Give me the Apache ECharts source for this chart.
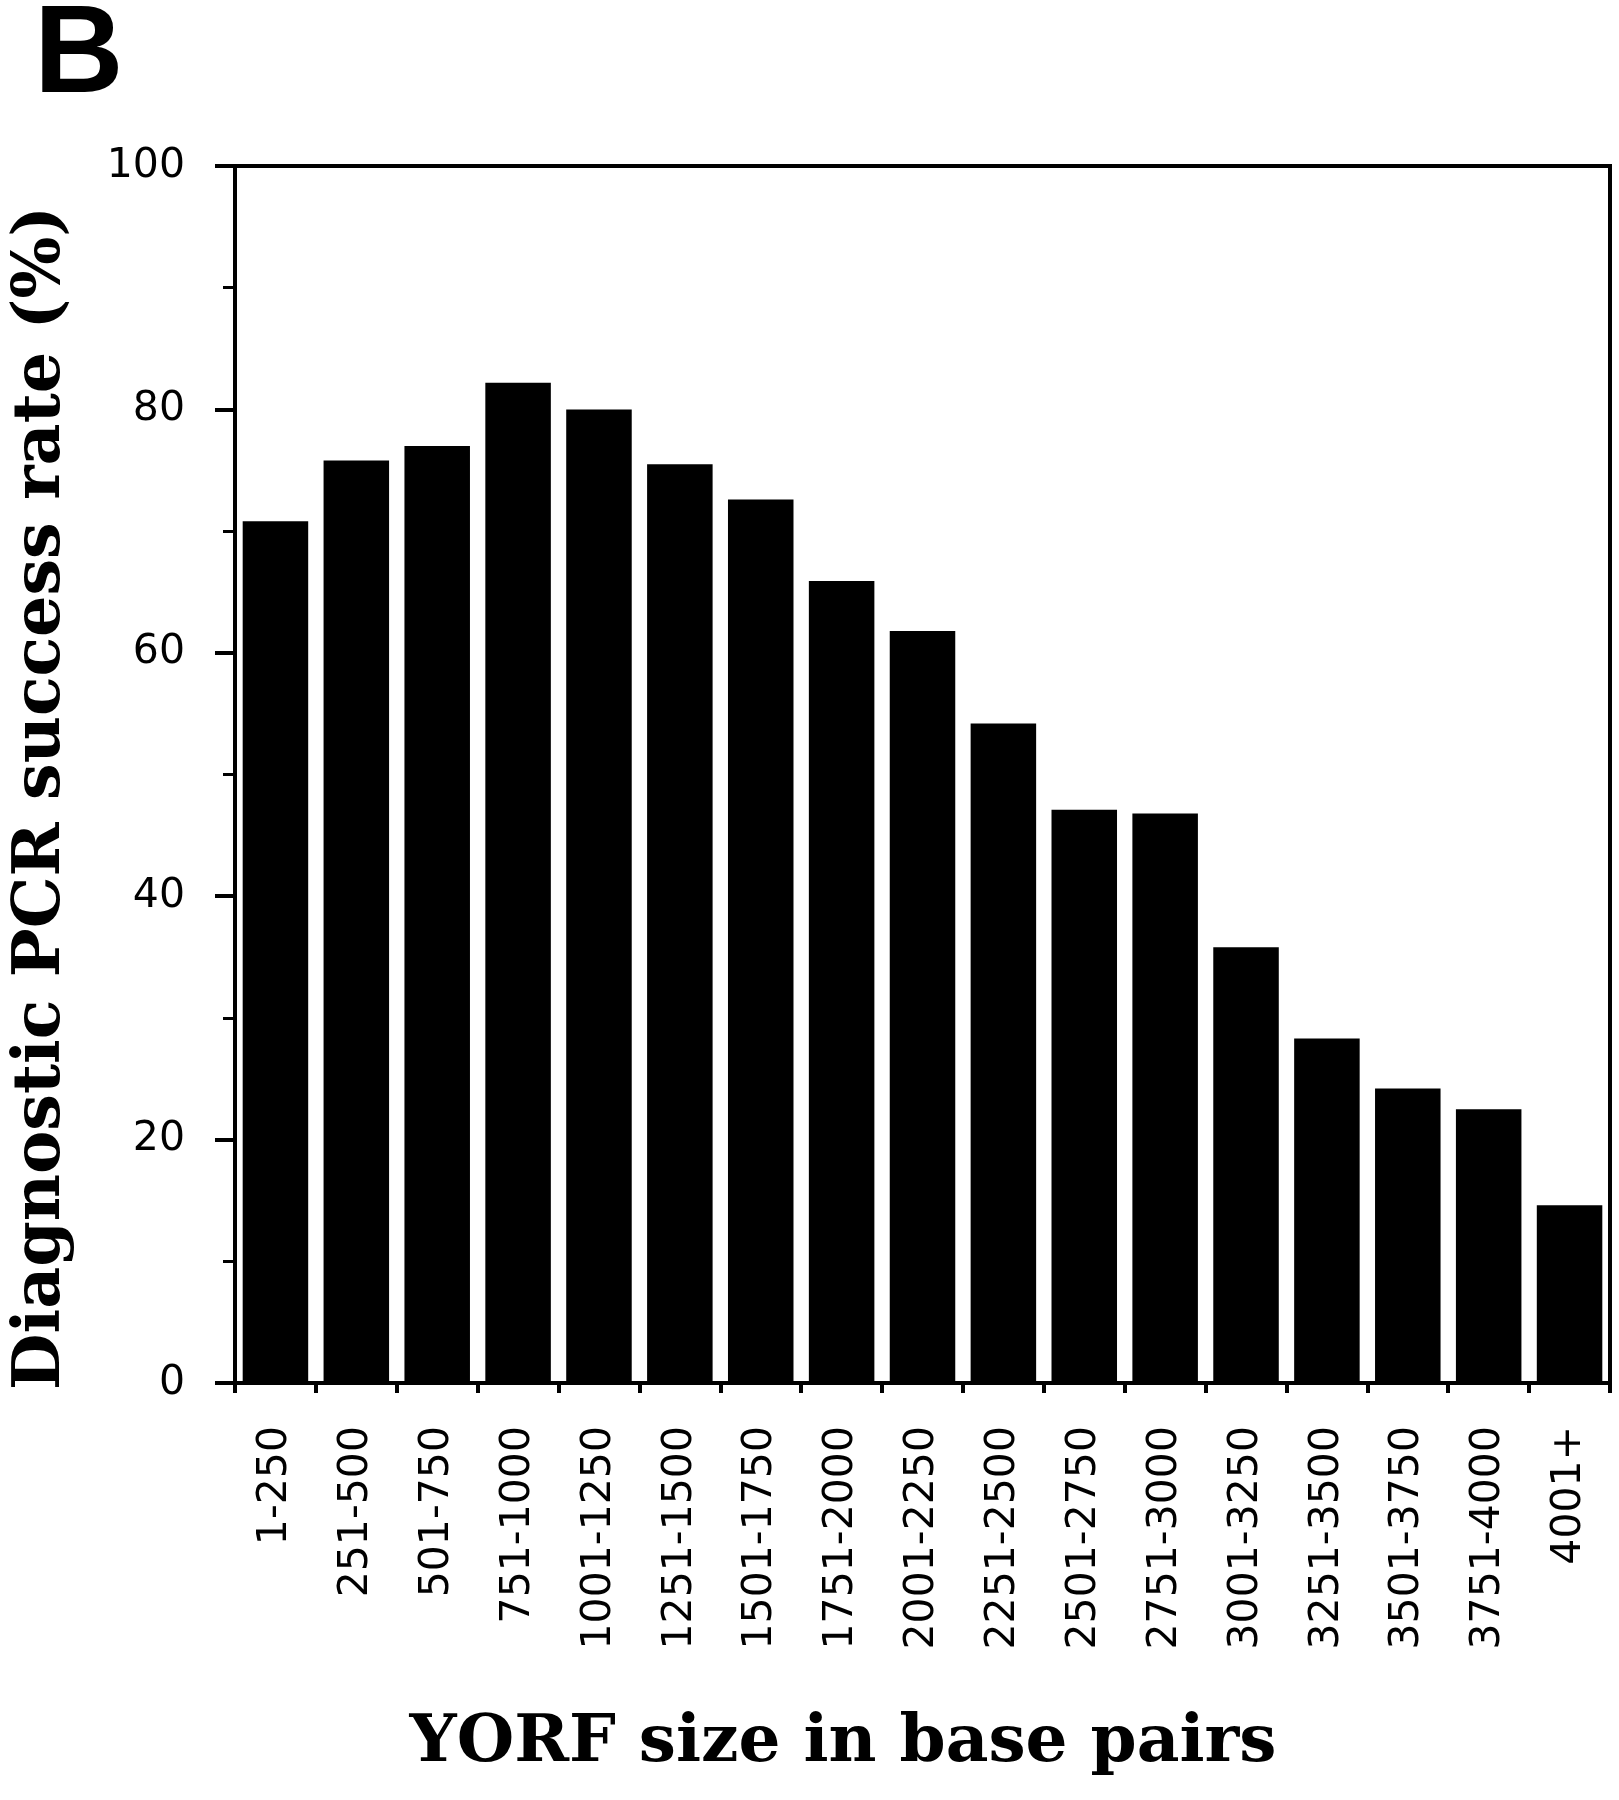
<!DOCTYPE html>
<html>
<head>
<meta charset="utf-8">
<script src="https://cdn.jsdelivr.net/npm/echarts@6/dist/echarts.min.js"></script>
<style>
  html, body { margin: 0; padding: 0; background: #fff; }
  #chart { width: 1619px; height: 1800px; }
</style>
</head>
<body>
<div id="chart"></div>
<script>
// YORF size bins (base pairs)
const sizeBins = [
  '1-250', '251-500', '501-750', '751-1000', '1001-1250', '1251-1500',
  '1501-1750', '1751-2000', '2001-2250', '2251-2500', '2501-2750',
  '2751-3000', '3001-3250', '3251-3500', '3501-3750', '3751-4000', '4001+'
]
// diagnostic PCR success rate (%)
const successRate = [
  70.8, 75.8, 77.0, 82.2, 80.0, 75.5, 72.6, 65.9, 61.8,
  54.2, 47.1, 46.8, 35.8, 28.3, 24.2, 22.5, 14.6
]
const yTicks = [0, 20, 40, 60, 80, 100]

const panelLabel = 'B'
const xTitle = 'YORF size in base pairs'
const yTitle = 'Diagnostic PCR success rate (%)'

const chart = echarts.init(document.getElementById('chart'))

const option = {
  animation: false,
  backgroundColor: '#fff',
  grid: {
    left: 235,
    right: 9,
    top: 166,
    bottom: 417,
    show: true,
    borderColor: '#000',
    borderWidth: 4,
    backgroundColor: 'transparent'
  },
  graphic: [
    {
      type: 'text',
      left: 34,
      top: -4,
      style: {
        text: panelLabel,
        font: 'bold 124px "Liberation Sans", Arial, sans-serif',
        fill: '#000'
      }
    },
    {
      type: 'text',
      x: 843,
      y: 1744,
      style: {
        text: xTitle,
        font: 'bold 66px "DejaVu Serif", serif',
        fill: '#000',
        align: 'center',
        verticalAlign: 'middle'
      }
    },
    {
      type: 'text',
      x: 42,
      y: 798,
      rotation: Math.PI / 2,
      style: {
        text: yTitle,
        font: 'bold 65px "DejaVu Serif", serif',
        fill: '#000',
        align: 'center',
        verticalAlign: 'middle'
      }
    }
  ],
  xAxis: {
    type: 'category',
    data: sizeBins,
    axisLine: { show: true, lineStyle: { color: '#000', width: 4 } },
    axisTick: {
      show: true,
      alignWithLabel: false,
      length: 10,
      lineStyle: { color: '#000', width: 4 }
    },
    axisLabel: {
      rotate: 90,
      margin: 43,
      interval: 0,
      color: '#000',
      fontFamily: '"DejaVu Sans", sans-serif',
      fontSize: 41
    },
    splitLine: { show: false }
  },
  yAxis: {
    type: 'value',
    min: 0,
    max: 100,
    interval: 20,
    axisLine: { show: true, lineStyle: { color: '#000', width: 4 } },
    axisTick: {
      show: true,
      length: 20,
      lineStyle: { color: '#000', width: 4 }
    },
    minorTick: {
      show: true,
      splitNumber: 2,
      length: 12,
      lineStyle: { color: '#000', width: 3 }
    },
    axisLabel: {
      margin: 50,
      color: '#000',
      fontFamily: '"DejaVu Sans", sans-serif',
      fontSize: 41,
      formatter: (v) => (yTicks.includes(v) ? String(v) : '')
    },
    splitLine: { show: false }
  },
  series: [
    {
      type: 'bar',
      data: successRate,
      barCategoryGap: '19%',
      itemStyle: { color: '#000' }
    }
  ]
}

chart.setOption(option)
</script>
</body>
</html>
